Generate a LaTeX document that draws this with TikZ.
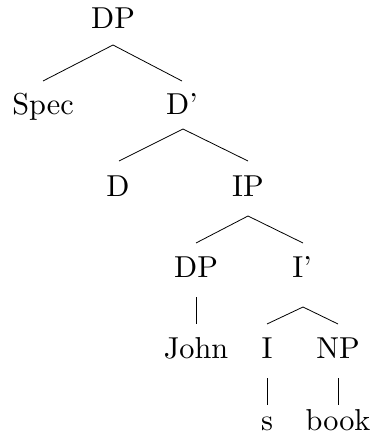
\documentclass[tikz,border=0pt]{standalone}
\usepackage{fontspec}
\setmainfont{lmroman10-regular}[Extension=.otf]
\usetikzlibrary{calc}
\begin{document}
\begin{tikzpicture}[x=0.75pt,y=-0.75pt,
  lab/.style={anchor=base,inner sep=0pt,font=\fontsize{22.7}{27}\selectfont},
  edge/.style={draw=black,line width=0.6pt}]
\useasboundingbox (0,0) rectangle (372,445);
\node[lab] (dp)    at (113,29)  {DP};
\node[lab] (spec)  at (43,115)  {Spec};
\node[lab] (dbar)  at (182,115) {D'};
\node[lab] (d)     at (118,196) {D};
\node[lab] (ip)    at (248,196) {IP};
\node[lab] (dp2)   at (196,277) {DP};
\node[lab] (ibar)  at (302,277) {I'};
\node[lab] (john)  at (196,358) {John};
\node[lab] (i)     at (267,358) {I};
\node[lab] (np)    at (338,358) {NP};
\node[lab] (s)     at (267,430) {s};
\node[lab] (book)  at (338,430) {book};
% edges
\draw[edge] ($(dp.base)+(0,16)$) -- ($(spec.base)+(0,-34)$);
\draw[edge] ($(dp.base)+(0,16)$) -- ($(dbar.base)+(0,-34)$);
\draw[edge] ($(dbar.base)+(1,14)$) -- ($(d.base)+(1,-35)$);
\draw[edge] ($(dbar.base)+(1,14)$) -- ($(ip.base)+(0,-35)$);
\draw[edge] ($(ip.base)+(0,20)$) -- ($(dp2.base)+(0,-34)$);
\draw[edge] ($(ip.base)+(0,20)$) -- ($(ibar.base)+(1,-34)$);
\draw[edge] ($(dp2.base)+(0,20)$) -- ($(john.base)+(0,-34)$);
\draw[edge] ($(ibar.base)+(1,30)$) -- ($(i.base)+(0,-34)$);
\draw[edge] ($(ibar.base)+(1,30)$) -- ($(np.base)+(0,-34)$);
\draw[edge] ($(i.base)+(0,20)$) -- ($(s.base)+(0,-25)$);
\draw[edge] ($(np.base)+(0,20)$) -- ($(book.base)+(0,-25)$);
\end{tikzpicture}
\end{document}
